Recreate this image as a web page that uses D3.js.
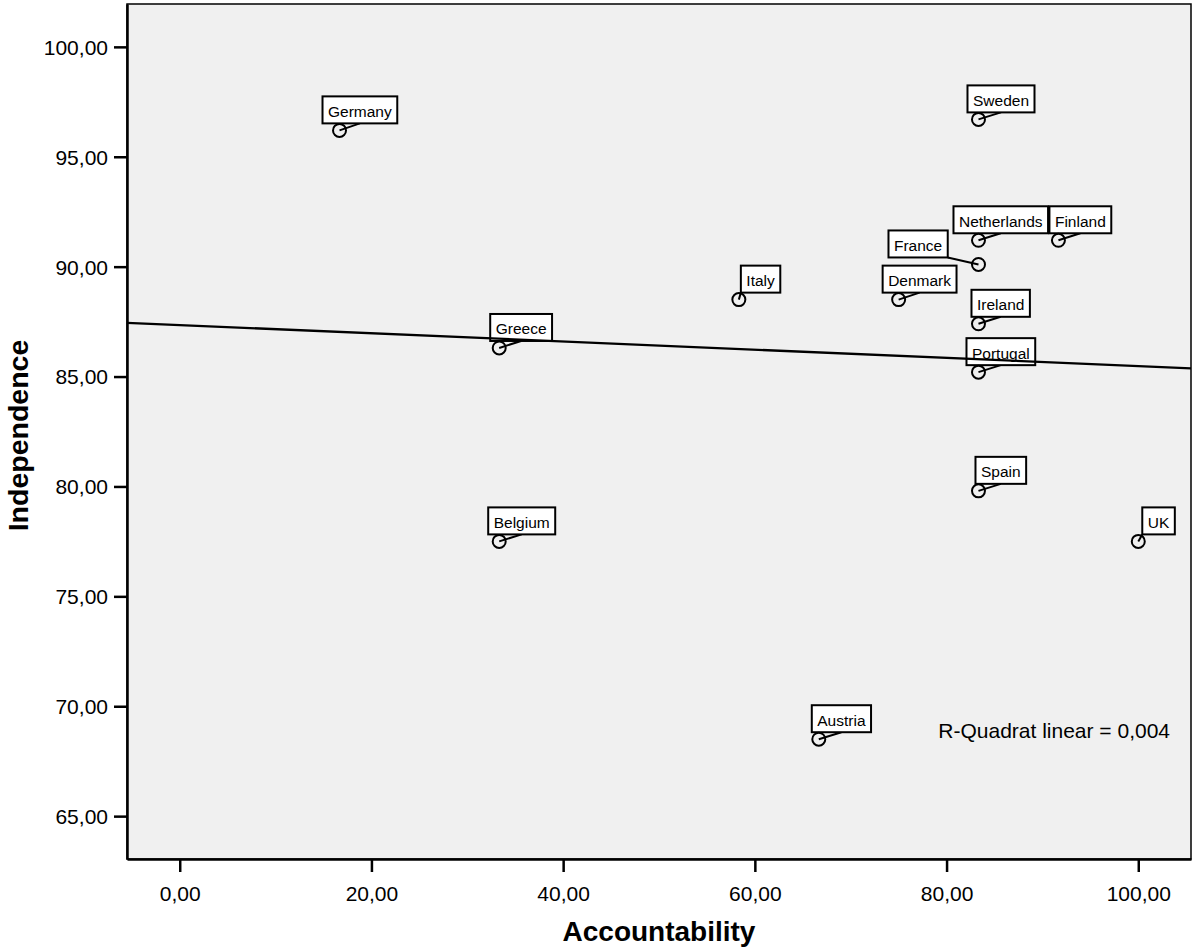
<!DOCTYPE html>
<html>
<head>
<meta charset="utf-8">
<script src="https://cdn.jsdelivr.net/npm/d3@7"></script>
<style>
  html, body { margin: 0; padding: 0; background: #ffffff; }
  svg { display: block; }
  text { font-family: "Liberation Sans", Arial, Helvetica, sans-serif; fill: #000; }
</style>
</head>
<body>
<svg id="chart" width="1192" height="952"></svg>
<script>
// ---- data ----
const countries = ["Germany", "Sweden", "Netherlands", "Finland", "France", "Italy", "Denmark",
                   "Ireland", "Greece", "Portugal", "Spain", "Belgium", "UK", "Austria"];
const accountability = [16.67, 83.33, 83.33, 91.67, 83.33, 58.33, 75.00,
                        83.33, 33.33, 83.33, 83.33, 33.33, 100.00, 66.67];
const independence = [96.2, 96.7, 91.2, 91.2, 90.1, 88.5, 88.5,
                      87.4, 86.3, 85.2, 79.8, 77.5, 77.5, 68.5];
const xTicks = [0, 20, 40, 60, 80, 100];
const yTicks = [65, 70, 75, 80, 85, 90, 95, 100];
const xTitle = "Accountability";
const yTitle = "Independence";
const fitLabelPrefix = "R-Quadrat linear = ";

// ---- layout (label box offsets relative to point, in px) ----
const labelDx = { Germany: -17, Sweden: -11, Netherlands: -25, Finland: -9, France: -90, Italy: 2,
                  Denmark: -16, Ireland: -7, Greece: -9, Portugal: -12, Spain: -3, Belgium: -11,
                  UK: 4, Austria: -7 };
const labelDy = -7;

const svg = d3.select("#chart");
const plot = { left: 127, top: 4, right: 1191, bottom: 859 };

const x = d3.scaleLinear().domain([-5.5, 105.5]).range([plot.left, plot.right]);
const y = d3.scaleLinear().domain([63.05, 101.95]).range([plot.bottom, plot.top]);
const fmt = v => d3.format(".2f")(v).replace(".", ",");

// plot background
svg.append("rect")
  .attr("x", plot.left).attr("y", plot.top)
  .attr("width", plot.right - plot.left).attr("height", plot.bottom - plot.top)
  .attr("fill", "#f0f0f0").attr("stroke", "#000").attr("stroke-width", 1.5);

// axes
const xAxis = svg.append("g")
  .attr("transform", `translate(0,${plot.bottom})`)
  .call(d3.axisBottom(x).tickValues(xTicks).tickFormat(fmt).tickSize(13).tickSizeOuter(0));
const yAxis = svg.append("g")
  .attr("transform", `translate(${plot.left},0)`)
  .call(d3.axisLeft(y).tickValues(yTicks).tickFormat(fmt).tickSize(13).tickSizeOuter(0));
[xAxis, yAxis].forEach(g => {
  g.select(".domain").attr("stroke", "#000").attr("stroke-width", 2.5);
  g.selectAll(".tick line").attr("stroke", "#000").attr("stroke-width", 2.5);
  g.selectAll(".tick text").attr("font-size", 21).attr("fill", "#000")
    .style("font-family", '"Liberation Sans", Arial, sans-serif');
});
xAxis.selectAll(".tick text").attr("y", 27).attr("dy", "0.71em");
yAxis.selectAll(".tick text").attr("x", -19).attr("dy", "0.35em");

// axis titles
svg.append("text")
  .attr("x", (plot.left + plot.right) / 2).attr("y", 941)
  .attr("text-anchor", "middle").attr("font-size", 28).attr("font-weight", "bold")
  .text(xTitle);
svg.append("text")
  .attr("transform", `translate(28,${(plot.top + plot.bottom) / 2 + 4}) rotate(-90)`)
  .attr("text-anchor", "middle").attr("font-size", 28.5).attr("font-weight", "bold")
  .text(yTitle);

// data points + labels
const pts = countries.map((c, i) => ({ name: c, xv: accountability[i], yv: independence[i] }));
const labG = svg.append("g");
pts.forEach(p => {
  const cx = x(p.xv), cy = y(p.yv);
  const g = labG.append("g");
  const leader = g.append("line").attr("stroke", "#000").attr("stroke-width", 2);
  const box = g.append("rect").attr("fill", "#fff").attr("stroke", "#000").attr("stroke-width", 2);
  const t = g.append("text").attr("font-size", 15.5).text(p.name);
  const tw = t.node().getComputedTextLength();
  const bw = tw + 11, bh = 27;
  const bx = cx + labelDx[p.name], by = cy + labelDy - bh;
  box.attr("x", bx).attr("y", by).attr("width", bw).attr("height", bh);
  t.attr("x", bx + 5.5).attr("y", by + bh - 6.5);
  let ax, ay = by + bh;
  if (cx >= bx && cx <= bx + bw) ax = bx + bw / 2;
  else ax = cx < bx ? bx : bx + bw;
  leader.attr("x1", cx).attr("y1", cy).attr("x2", ax).attr("y2", ay);
  g.append("circle").attr("cx", cx).attr("cy", cy).attr("r", 6.5)
    .attr("fill", "none").attr("stroke", "#000").attr("stroke-width", 2);
});

// linear fit
const mx = d3.mean(accountability), my = d3.mean(independence);
let sxy = 0, sxx = 0, syy = 0;
accountability.forEach((v, i) => {
  sxy += (v - mx) * (independence[i] - my);
  sxx += (v - mx) ** 2;
  syy += (independence[i] - my) ** 2;
});
const slope = sxy / sxx, intercept = my - slope * mx;
const r2 = (sxy * sxy) / (sxx * syy);
const [x0, x1] = x.domain();
svg.append("line")
  .attr("x1", x(x0)).attr("y1", y(intercept + slope * x0))
  .attr("x2", x(x1)).attr("y2", y(intercept + slope * x1))
  .attr("stroke", "#000").attr("stroke-width", 2.3);

svg.append("text")
  .attr("x", 1170).attr("y", 738).attr("text-anchor", "end").attr("font-size", 21)
  .text(fitLabelPrefix + d3.format(".3f")(r2).replace(".", ","));
</script>
</body>
</html>
